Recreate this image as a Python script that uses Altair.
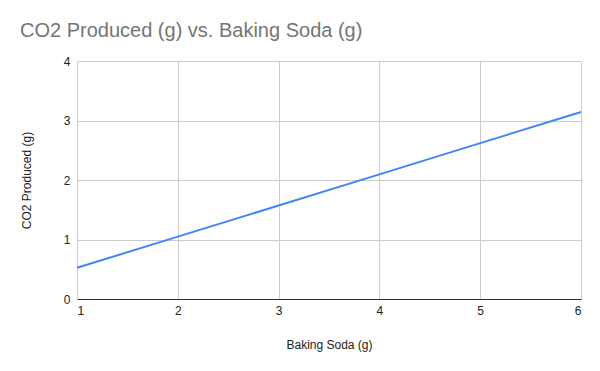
import altair as alt
import pandas as pd

baking_soda = [1, 2, 3, 4, 5, 6]
co2 = [0.524, 1.048, 1.571, 2.095, 2.619, 3.143]

df = pd.DataFrame({"Baking Soda (g)": baking_soda, "CO2 Produced (g)": co2})

FONT = "Arial, Liberation Sans, Roboto, sans-serif"

chart = alt.Chart(df).mark_line(color="#4285F4", strokeWidth=2).encode(
    x=alt.X("Baking Soda (g):Q",
            scale=alt.Scale(domain=[1, 6], nice=False, zero=False),
            axis=alt.Axis(values=[1, 2, 3, 4, 5, 6], format="d", ticks=False,
                          domain=True, domainColor="#333333", domainWidth=1,
                          gridColor="#cccccc", labelColor="#222222", labelFontSize=12,
                          labelFont=FONT, labelPadding=6, titleFont=FONT,
                          titleFontSize=12, titleFontWeight="normal", titleColor="#222222",
                          titlePadding=23)),
    y=alt.Y("CO2 Produced (g):Q",
            scale=alt.Scale(domain=[0, 4], nice=False),
            axis=alt.Axis(values=[0, 1, 2, 3, 4], format="d", ticks=False,
                          domain=False, gridColor="#cccccc", labelColor="#222222",
                          labelFontSize=12, labelFont=FONT, labelPadding=7,
                          titleFont=FONT, titleFontSize=12, titleFontWeight="normal",
                          titleColor="#222222", titlePadding=30)),
).properties(
    width=504,
    height=238,
    title=alt.TitleParams("CO2 Produced (g) vs. Baking Soda (g)", anchor="start",
                          frame="group", dx=-57, offset=14, fontSize=20,
                          font=FONT, fontWeight="normal", color="#757575"),
    autosize=alt.AutoSizeParams(type="none"),
    padding={"left": 69, "top": 53, "right": 8, "bottom": 54},
).configure_view(stroke=None)

chart.save("out.html", embed_options={"renderer": "svg", "actions": False})
